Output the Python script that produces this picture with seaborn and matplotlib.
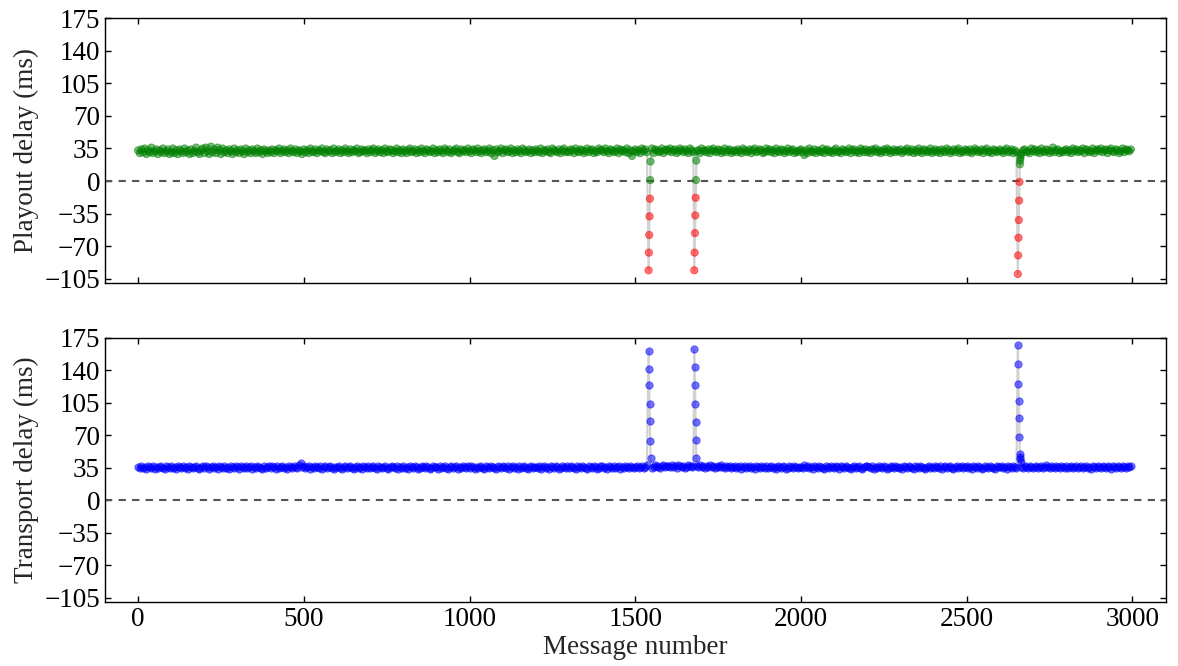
import numpy as np
import pandas as pd
import matplotlib
matplotlib.use("Agg")
import matplotlib.pyplot as plt
import seaborn as sns

# ---------------- data ----------------
# baseline samples: one value every 5 messages (messages 0, 5, ..., 2995)
baseline_step = 5
playout_baseline = [
    33, 30, 34, 31, 35, 29, 33, 31, 36, 30, 32, 34, 29, 33, 31, 35, 30, 32, 34, 29,
    31, 35, 30, 33, 29, 34, 32, 30, 35, 31, 33, 29, 34, 30, 32, 36, 31, 29, 33, 35,
    30, 36, 32, 29, 37, 31, 34, 30, 36, 33, 29, 35, 31, 33, 30, 34, 32, 29, 35, 31,
    33, 30, 34, 32, 29, 35, 31, 33, 30, 34, 32, 30, 35, 31, 33, 29, 34, 32, 30, 33,
    31, 34, 30, 33, 32, 35, 30, 32, 34, 31, 33, 30, 35, 32, 31, 34, 30, 33, 32, 29,
    34, 31, 33, 30, 35, 32, 31, 34, 30, 33, 32, 35, 31, 30, 34, 32, 33, 30, 35, 31,
    32, 34, 30, 33, 31, 35, 32, 30, 34, 31, 33, 32, 35, 30, 31, 34, 32, 33, 30, 34,
    31, 33, 35, 30, 32, 34, 31, 33, 30, 35, 32, 31, 34, 33, 30, 32, 35, 31, 33, 30,
    34, 32, 30, 33, 35, 31, 32, 34, 30, 33, 31, 35, 32, 30, 34, 33, 31, 32, 35, 30,
    33, 31, 34, 32, 30, 35, 33, 31, 34, 30, 32, 33, 35, 31, 30, 34, 32, 33, 31, 35,
    32, 30, 34, 33, 31, 35, 32, 30, 33, 34, 31, 32, 35, 30, 33, 27, 34, 31, 32, 35,
    30, 33, 34, 31, 32, 35, 30, 33, 31, 34, 32, 30, 35, 33, 31, 32, 34, 30, 33, 31,
    34, 32, 31, 35, 30, 33, 32, 34, 31, 30, 35, 33, 32, 31, 34, 30, 33, 35, 31, 32,
    31, 34, 33, 30, 35, 32, 31, 34, 33, 30, 32, 35, 31, 33, 34, 30, 32, 31, 35, 33,
    33, 31, 35, 32, 30, 34, 33, 31, 32, 35, 30, 34, 32, 33, 31, 35, 30, 33, 27, 32,
    34, 31, 33, 30, 35, 32, 34, 31, 33, 32, 35, 30, 34, 33, 31, 32, 35, 30, 33, 34,
    32, 35, 31, 33, 34, 30, 32, 35, 33, 31, 34, 32, 30, 35, 33, 31, 34, 32, 33, 30,
    35, 32, 33, 31, 34, 30, 33, 35, 32, 31, 34, 33, 30, 32, 35, 31, 33, 34, 30, 32,
    33, 31, 34, 32, 30, 35, 33, 31, 32, 34, 30, 33, 35, 31, 32, 34, 33, 30, 31, 35,
    32, 34, 31, 33, 30, 35, 32, 31, 34, 33, 30, 32, 35, 31, 33, 34, 30, 32, 31, 33,
    34, 31, 28, 33, 30, 35, 32, 31, 34, 30, 33, 32, 31, 35, 30, 33, 34, 31, 32, 30,
    33, 35, 31, 32, 30, 34, 33, 31, 32, 35, 30, 33, 34, 31, 32, 30, 35, 33, 31, 34,
    31, 33, 30, 34, 32, 35, 31, 33, 30, 32, 34, 31, 35, 33, 30, 32, 34, 31, 33, 32,
    34, 30, 32, 33, 35, 31, 32, 34, 30, 33, 31, 35, 32, 30, 34, 33, 31, 32, 35, 30,
    32, 34, 31, 33, 30, 34, 32, 31, 35, 33, 30, 32, 34, 31, 33, 35, 30, 32, 31, 34,
    33, 31, 34, 30, 32, 35, 33, 31, 32, 34, 30, 33, 35, 31, 32, 30, 34, 33, 31, 32,
    34, 32, 30, 33, 35, 31, 32, 34, 30, 33, 31, 32, 35, 30, 33, 34, 31, 32, 30, 35,
    32, 34, 31, 33, 30, 35, 32, 31, 34, 33, 30, 32, 36, 31, 33, 34, 30, 32, 31, 33,
    34, 31, 33, 30, 35, 32, 34, 31, 33, 32, 35, 30, 34, 33, 31, 32, 35, 30, 33, 34,
    32, 35, 31, 33, 34, 30, 33, 35, 32, 31, 34, 33, 30, 32, 35, 31, 34, 33, 32, 34,
]
transport_baseline = [
    36, 35, 37, 35, 36, 34, 37, 36, 35, 37, 34, 36, 35, 37, 36, 35, 34, 37, 36, 35,
    37, 35, 36, 34, 37, 36, 35, 37, 35, 36, 34, 37, 36, 35, 36, 37, 35, 34, 36, 37,
    35, 37, 36, 34, 36, 37, 35, 36, 34, 37, 36, 35, 37, 35, 36, 34, 37, 36, 35, 37,
    36, 34, 37, 36, 35, 37, 35, 36, 37, 34, 36, 35, 37, 36, 35, 34, 37, 35, 36, 37,
    35, 37, 36, 34, 37, 35, 36, 37, 35, 36, 34, 37, 36, 35, 37, 36, 35, 38, 40, 36,
    37, 35, 36, 37, 34, 36, 35, 37, 36, 35, 37, 34, 36, 37, 35, 36, 37, 35, 34, 36,
    36, 37, 35, 34, 36, 37, 35, 36, 37, 35, 34, 36, 37, 35, 36, 34, 37, 36, 35, 37,
    35, 36, 37, 35, 34, 37, 36, 35, 36, 37, 35, 34, 36, 37, 36, 35, 37, 34, 36, 35,
    37, 35, 36, 34, 37, 36, 35, 37, 36, 34, 35, 37, 36, 35, 37, 36, 34, 35, 37, 36,
    36, 34, 37, 35, 36, 37, 35, 34, 36, 37, 35, 36, 37, 34, 36, 35, 37, 36, 35, 37,
    35, 37, 36, 34, 36, 35, 37, 36, 35, 34, 37, 36, 35, 37, 36, 35, 34, 37, 36, 35,
    37, 36, 35, 37, 34, 36, 37, 35, 36, 34, 37, 35, 36, 37, 35, 34, 36, 37, 35, 36,
    36, 35, 37, 34, 36, 37, 35, 36, 34, 37, 36, 35, 37, 36, 34, 35, 37, 36, 35, 37,
    35, 37, 36, 35, 34, 37, 36, 35, 37, 36, 35, 34, 37, 36, 35, 37, 36, 34, 35, 37,
    37, 35, 36, 34, 37, 36, 35, 37, 35, 36, 37, 34, 36, 35, 37, 36, 35, 37, 36, 35,
    36, 37, 35, 36, 37, 35, 36, 38, 36, 37, 35, 36, 38, 37, 36, 35, 37, 38, 36, 37,
    37, 36, 38, 36, 37, 35, 38, 37, 36, 37, 35, 36, 38, 37, 36, 37, 35, 37, 36, 38,
    36, 37, 35, 37, 36, 38, 36, 37, 35, 36, 37, 36, 38, 36, 35, 37, 36, 37, 35, 36,
    37, 35, 36, 37, 34, 36, 37, 35, 36, 37, 35, 36, 34, 37, 36, 35, 37, 36, 35, 37,
    35, 36, 37, 35, 36, 34, 37, 36, 35, 37, 36, 34, 35, 37, 36, 35, 37, 36, 35, 36,
    36, 35, 38, 36, 37, 35, 36, 34, 37, 36, 35, 37, 36, 35, 34, 37, 36, 35, 37, 36,
    35, 37, 36, 34, 37, 36, 35, 37, 36, 35, 34, 36, 37, 35, 36, 37, 35, 34, 36, 37,
    37, 36, 35, 37, 34, 36, 35, 37, 36, 35, 37, 36, 34, 35, 37, 36, 35, 37, 36, 35,
    36, 34, 37, 36, 35, 37, 36, 35, 34, 37, 36, 35, 37, 36, 35, 34, 36, 37, 35, 36,
    35, 37, 36, 35, 37, 34, 36, 37, 35, 36, 37, 35, 34, 36, 37, 35, 36, 37, 35, 36,
    37, 35, 36, 34, 37, 36, 35, 37, 36, 34, 35, 37, 36, 35, 37, 36, 35, 34, 37, 36,
    36, 37, 35, 36, 34, 37, 36, 35, 37, 36, 35, 34, 37, 36, 35, 37, 36, 35, 37, 36,
    35, 36, 37, 35, 36, 37, 35, 36, 38, 36, 35, 37, 36, 35, 37, 36, 35, 37, 36, 35,
    37, 35, 36, 37, 35, 36, 37, 35, 36, 37, 35, 36, 37, 35, 36, 34, 37, 36, 35, 37,
    36, 35, 37, 36, 35, 37, 36, 34, 37, 36, 35, 37, 36, 35, 37, 36, 35, 37, 36, 37,
]

# bursts of delayed messages: first message number of each burst
spike_starts = [1540, 1678, 2654]
playout_spikes = [
    [-96, -77, -58, -38, -19, 1, 21],
    [-96, -77, -56, -37, -18, 1, 22],
    [-100, -80, -61, -42, -21, -1, 18, 22, 25, 28],
]
transport_spikes = [
    [161, 141, 124, 104, 85, 64, 45],
    [163, 143, 124, 104, 84, 65, 45],
    [167, 147, 125, 107, 88, 68, 50, 47, 44, 41],
]

y_ticks = [-105, -70, -35, 0, 35, 70, 105, 140, 175]
x_ticks = [0, 500, 1000, 1500, 2000, 2500, 3000]

# ---------------- assemble ----------------
play = {i * baseline_step: v for i, v in enumerate(playout_baseline)}
trans = {i * baseline_step: v for i, v in enumerate(transport_baseline)}
for s, pv, tv in zip(spike_starts, playout_spikes, transport_spikes):
    for k in list(play):
        if s <= k < s + len(pv):
            del play[k]
            del trans[k]
    for j, (p, t) in enumerate(zip(pv, tv)):
        play[s + j] = p
        trans[s + j] = t
msgs = sorted(play)
df = pd.DataFrame({
    "msg": msgs,
    "playout": [play[m] for m in msgs],
    "transport": [trans[m] for m in msgs],
})
df["sign"] = np.where(df["playout"] >= 0, "pos", "neg")

# ---------------- style ----------------
sns.set_style("ticks", {"xtick.direction": "in", "ytick.direction": "in",
                        "xtick.top": True, "ytick.right": True})
plt.rcParams["font.family"] = ["Liberation Serif", "DejaVu Serif"]
FS = 19.5
plt.rcParams["font.size"] = FS
plt.rcParams["axes.linewidth"] = 1.0

fig = plt.figure(figsize=(11.78, 6.66), dpi=100)
ax1 = fig.add_axes([0.0891, 0.5746, 0.9004, 0.3979])
ax2 = fig.add_axes([0.0891, 0.0957, 0.9004, 0.3972], sharex=ax1)

for ax, col in [(ax1, "playout"), (ax2, "transport")]:
    sns.lineplot(data=df, x="msg", y=col, ax=ax, color="gray", alpha=0.35,
                 lw=1.6, estimator=None, sort=True, legend=False, zorder=2)
    if col == "playout":
        sns.scatterplot(data=df, x="msg", y=col, hue="sign",
                        palette={"pos": "green", "neg": "red"}, s=28, alpha=0.55,
                        linewidth=0.6, edgecolor="face", legend=False, ax=ax,
                        zorder=3)
    else:
        sns.scatterplot(data=df, x="msg", y=col, color="blue", s=28, alpha=0.55,
                        linewidth=0.6, edgecolor="face", legend=False, ax=ax,
                        zorder=3)
    ax.axhline(0, color="#555555", lw=1.5, ls=(0, (3.5, 3)), zorder=1)
    ax.set_ylim(-110, 175)
    ax.set_yticks(y_ticks)
    ax.set_xlim(-100, 3100)
    ax.set_xticks(x_ticks)
    ax.tick_params(direction="in", length=4, width=1, colors="black",
                   top=True, right=True, labelsize=FS)
    for sp in ax.spines.values():
        sp.set_visible(True)
        sp.set_color("black")
        sp.set_linewidth(1.0)
    ax.set_xlabel("")

ax1.tick_params(labelbottom=False)
ax1.set_ylabel("Playout delay (ms)", fontsize=FS)
ax2.set_ylabel("Transport delay (ms)", fontsize=FS)
ax2.set_xlabel("Message number", fontsize=FS, labelpad=2)

fig.savefig("out.png", dpi=100)
